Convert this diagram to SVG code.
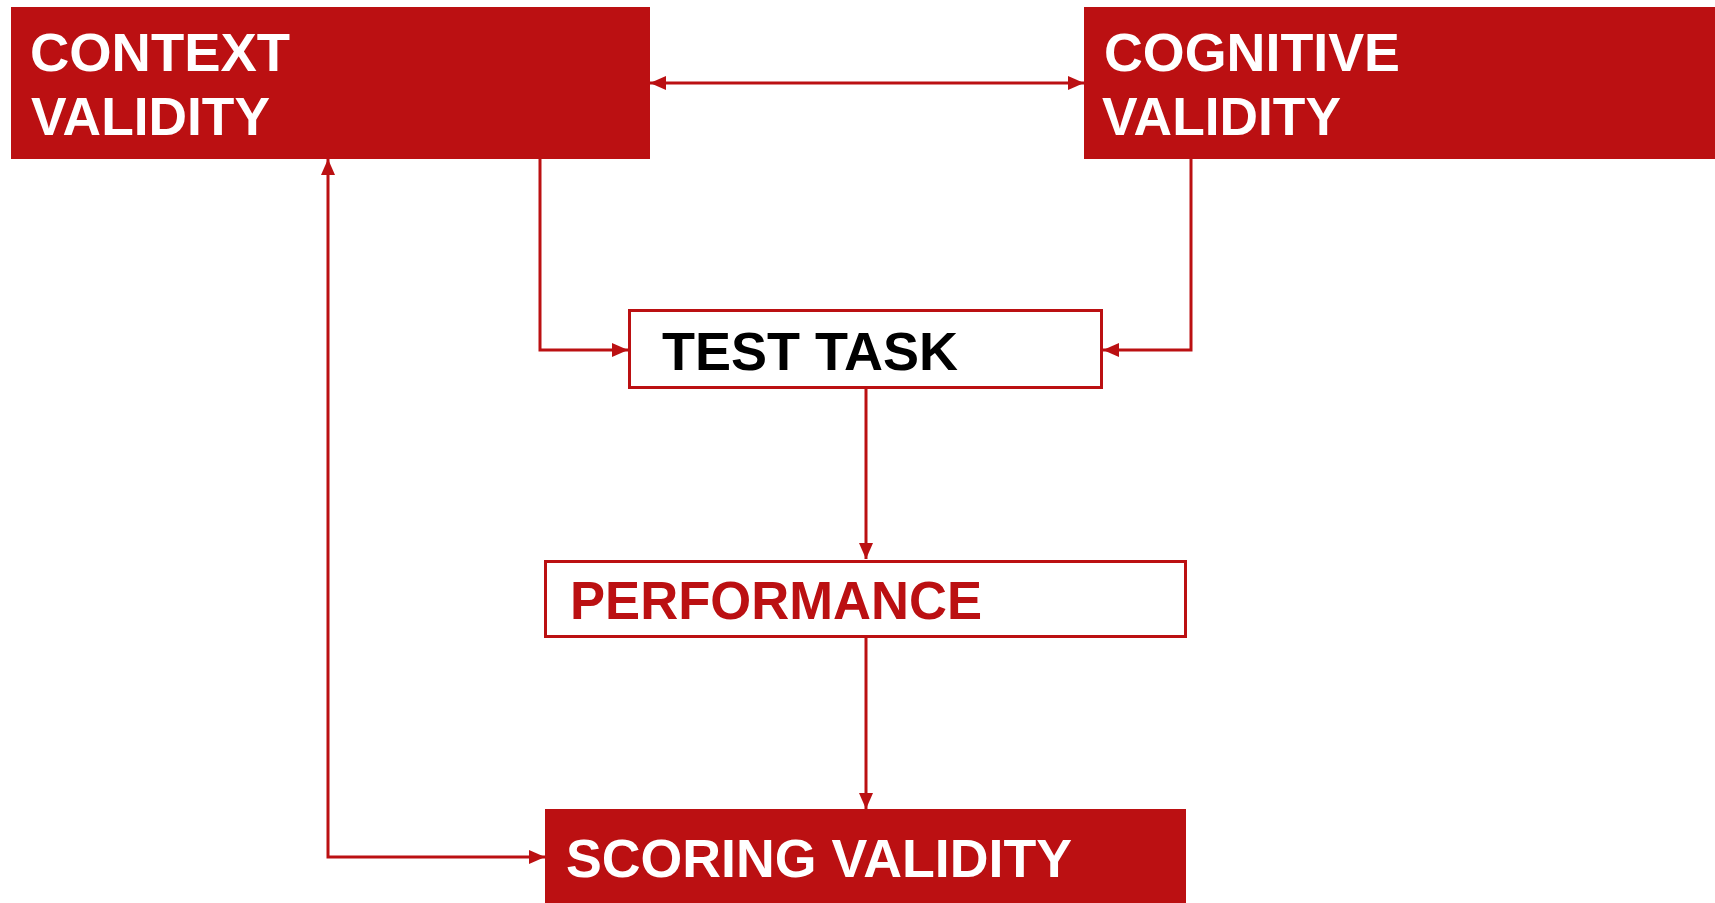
<svg xmlns="http://www.w3.org/2000/svg" width="1715" height="903" viewBox="0 0 1715 903">
  <style>
    .solid { fill: #BB1012; stroke: none; }
    .outline { fill: #FFFFFF; stroke: #BB1012; stroke-width: 3; }
    .label { font-family: "Liberation Sans", Arial, sans-serif; font-size: 54px; font-weight: bold; }
    .white { fill: #FFFFFF; }
    .dark { fill: #000000; }
    .red { fill: #BB1012; }
    .wire { fill: none; stroke: #BB1012; stroke-width: 3; }
  </style>
  <defs>
    <marker id="head" markerUnits="userSpaceOnUse" markerWidth="16" markerHeight="14" refX="16" refY="7" orient="auto-start-reverse" viewBox="0 0 16 14">
      <path d="M0,0 L16,7 L0,14 z" fill="#BB1012"/>
    </marker>
  </defs>

  <rect width="1715" height="903" fill="#FFFFFF"/>

  <g id="connectors">
    <!-- context <-> cognitive -->
    <line class="wire" x1="650" y1="83" x2="1084" y2="83" marker-start="url(#head)" marker-end="url(#head)"/>
    <!-- context -> test task -->
    <polyline class="wire" points="540,159 540,350 628,350" marker-end="url(#head)"/>
    <!-- cognitive -> test task -->
    <polyline class="wire" points="1191,159 1191,350 1103,350" marker-end="url(#head)"/>
    <!-- test task -> performance -->
    <line class="wire" x1="866" y1="389" x2="866" y2="559" marker-end="url(#head)"/>
    <!-- performance -> scoring -->
    <line class="wire" x1="866" y1="638" x2="866" y2="809" marker-end="url(#head)"/>
    <!-- context <-> scoring -->
    <polyline class="wire" points="328,159 328,857 545,857" marker-start="url(#head)" marker-end="url(#head)"/>
  </g>

  <g id="context-validity">
    <rect class="solid" x="11" y="7" width="639" height="152"/>
    <text class="label white" x="30" y="71" textLength="260" lengthAdjust="spacingAndGlyphs">CONTEXT</text>
    <text class="label white" x="31" y="135" textLength="239" lengthAdjust="spacingAndGlyphs">VALIDITY</text>
  </g>

  <g id="cognitive-validity">
    <rect class="solid" x="1084" y="7" width="631" height="152"/>
    <text class="label white" x="1104" y="71" textLength="296" lengthAdjust="spacingAndGlyphs">COGNITIVE</text>
    <text class="label white" x="1102" y="135" textLength="239" lengthAdjust="spacingAndGlyphs">VALIDITY</text>
  </g>

  <g id="test-task">
    <rect class="outline" x="629.5" y="310.5" width="472" height="77"/>
    <text class="label dark" x="662" y="370" textLength="296" lengthAdjust="spacingAndGlyphs">TEST TASK</text>
  </g>

  <g id="performance">
    <rect class="outline" x="545.5" y="561.5" width="640" height="75"/>
    <text class="label red" x="570" y="619" textLength="412" lengthAdjust="spacingAndGlyphs">PERFORMANCE</text>
  </g>

  <g id="scoring-validity">
    <rect class="solid" x="545" y="809" width="641" height="94"/>
    <text class="label white" x="566" y="877" textLength="506" lengthAdjust="spacingAndGlyphs">SCORING VALIDITY</text>
  </g>
</svg>
